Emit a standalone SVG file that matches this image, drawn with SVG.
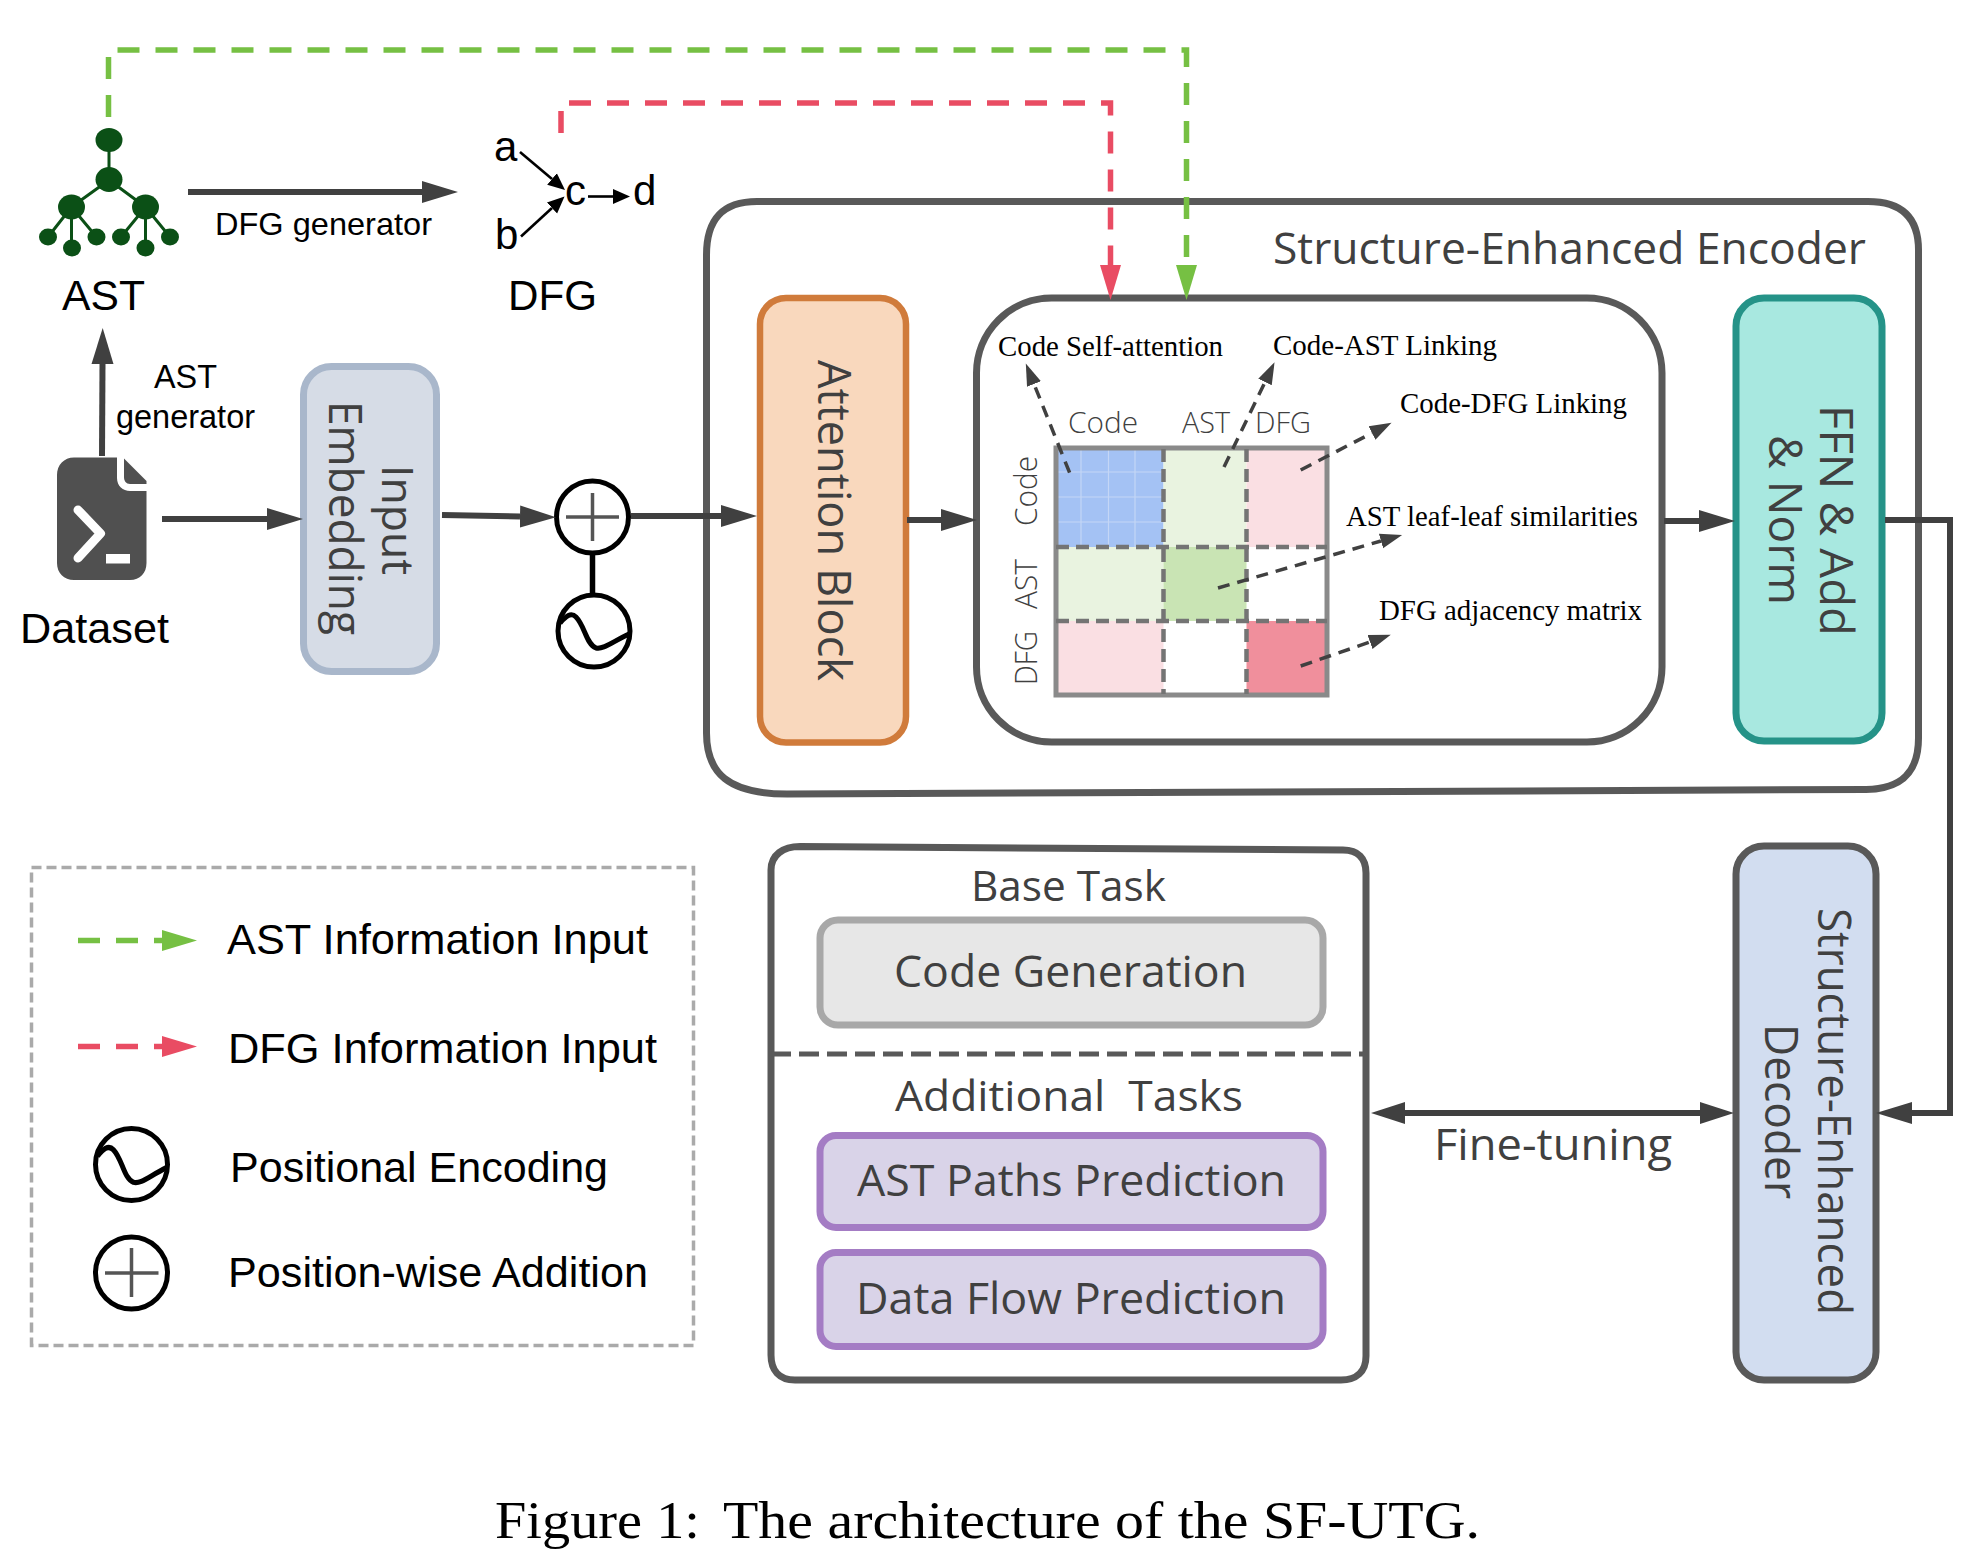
<svg xmlns="http://www.w3.org/2000/svg" width="1981" height="1567" viewBox="0 0 1981 1567">
<defs>
<style>
.ar{font-family:"Liberation Sans",Arial,sans-serif;fill:#000}
.se{font-family:"Open Sans","Noto Sans",sans-serif;fill:#404040}
.th{font-family:"Open Sans","Noto Sans",sans-serif;fill:#404040;font-weight:300}
.ti{font-family:"Liberation Serif","Times New Roman",serif;fill:#000}
.dk{fill:none;stroke:#404040;stroke-width:6}
.dash{fill:none;stroke:#404040;stroke-width:3.5;stroke-dasharray:12 8}
.green{fill:none;stroke:#76c043;stroke-width:5.5;stroke-dasharray:22 16}
.red{fill:none;stroke:#e94c63;stroke-width:5.5;stroke-dasharray:22 16}
.thin{fill:none;stroke:#000;stroke-width:2.6}
.edge{fill:none;stroke:#0b5016;stroke-width:3}
.n{fill:#0b5016}
.sym{fill:#fff;stroke:#000;stroke-width:5}
.wave{fill:none;stroke:#000;stroke-width:5}
.cross{fill:none;stroke:#555;stroke-width:3.5}
.div{fill:none;stroke:#747474;stroke-width:4.5;stroke-dasharray:13 7}
.grid{fill:none;stroke:#c4d6f6;stroke-width:1.2}
.frame{fill:none;stroke:#8a8a8a;stroke-width:5}
</style>
<marker id="hd" markerUnits="userSpaceOnUse" markerWidth="40" markerHeight="26" refX="0" refY="13" orient="auto"><path d="M0 2L36 13L0 24Z" fill="#404040"/></marker>
<marker id="hdb" markerUnits="userSpaceOnUse" markerWidth="40" markerHeight="26" refX="0" refY="13" orient="auto-start-reverse"><path d="M0 2L34 13L0 24Z" fill="#404040"/></marker>
<marker id="hs" markerUnits="userSpaceOnUse" markerWidth="26" markerHeight="20" refX="0" refY="10" orient="auto"><path d="M0 2.5L22 10L0 17.5Z" fill="#404040"/></marker>
<marker id="ht" markerUnits="userSpaceOnUse" markerWidth="20" markerHeight="18" refX="0" refY="9" orient="auto"><path d="M0 1.5L17 9L0 16.5Z" fill="#000"/></marker>
<marker id="hg" markerUnits="userSpaceOnUse" markerWidth="40" markerHeight="26" refX="0" refY="13" orient="auto"><path d="M0 2.5L35 13L0 23.5Z" fill="#76c043"/></marker>
<marker id="hr" markerUnits="userSpaceOnUse" markerWidth="40" markerHeight="26" refX="0" refY="13" orient="auto"><path d="M0 2.5L35 13L0 23.5Z" fill="#e94c63"/></marker>
<path id="sine" d="M-34 -8C-28 -15 -23 -19 -18 -14C-9 -5 -8 13 2 17C9 19 18 11 35 3"/>
</defs>
<rect width="1981" height="1567" fill="#fff"/>

<g id="encoder">
<path d="M757 201.500H1868C1902 201.500 1918.500 218 1918.500 250V738C1918.500 772 1902 789 1866 789.500L787 794C728 794 706.500 773 706.500 733V255C706.500 220 722 201.500 757 201.500Z" fill="#fff" stroke="#595959" stroke-width="7"/>
<text class="se" x="1273" y="264" font-size="44" textLength="593" lengthAdjust="spacingAndGlyphs">Structure-Enhanced Encoder</text>
</g>

<g id="ast">
<path class="edge" d="M109 140V180M109 180L71.500 207M109 180L145.500 207M71.500 207L48 237M71.500 207V248M71.500 207L96.500 237M145.500 207L121 237M145.500 207V248M145.500 207L170 237"/>
<ellipse class="n" cx="109" cy="140" rx="13.500" ry="12"/>
<ellipse class="n" cx="109" cy="179.500" rx="13.500" ry="12.500"/>
<ellipse class="n" cx="71.500" cy="207" rx="13.500" ry="12.500"/>
<ellipse class="n" cx="145.500" cy="207" rx="13.500" ry="12.500"/>
<ellipse class="n" cx="48" cy="237" rx="9" ry="8.500"/>
<ellipse class="n" cx="72" cy="248" rx="9" ry="8.500"/>
<ellipse class="n" cx="96.500" cy="237" rx="9" ry="8.500"/>
<ellipse class="n" cx="121" cy="237" rx="9" ry="8.500"/>
<ellipse class="n" cx="145.500" cy="248" rx="9" ry="8.500"/>
<ellipse class="n" cx="170" cy="237" rx="9" ry="8.500"/>
<text class="ar" x="62" y="310" font-size="43" textLength="83" lengthAdjust="spacingAndGlyphs">AST</text>
</g>

<g id="dfg">
<text class="ar" x="494" y="161" font-size="42">a</text>
<text class="ar" x="495" y="249" font-size="42">b</text>
<text class="ar" x="565" y="205" font-size="42">c</text>
<text class="ar" x="633" y="205" font-size="42">d</text>
<path class="thin" d="M520 152L552 179" marker-end="url(#ht)"/>
<path class="thin" d="M521 236.500L552 208" marker-end="url(#ht)"/>
<path class="thin" d="M588 196.500H613" marker-end="url(#ht)"/>
<text class="ar" x="508" y="310" font-size="43" textLength="89" lengthAdjust="spacingAndGlyphs">DFG</text>
</g>

<g id="dataset">
<path d="M74 457.500H117V478C117 486 123 491 130 491H146.500V563C146.500 573 140 580 130 580H74C64 580 57 573 57 563V475C57 465 64 457.500 74 457.500Z" fill="#505050"/>
<path d="M124 458.500L146.500 481V484H130C126 484 124 481 124 477Z" fill="#505050"/>
<path d="M78 510L100.500 533.500L78 558" fill="none" stroke="#fff" stroke-width="9" stroke-linecap="round" stroke-linejoin="round"/>
<rect x="106" y="554" width="24" height="9.500" fill="#fff"/>
<text class="ar" x="20" y="643" font-size="43" textLength="149" lengthAdjust="spacingAndGlyphs">Dataset</text>
</g>

<g id="input-embedding">
<rect x="303.500" y="366.500" width="133" height="305" rx="28" fill="#d6dce6" stroke="#a9b7cb" stroke-width="7"/>
<text class="se" transform="translate(381.500,465) rotate(90)" font-size="44" textLength="110" lengthAdjust="spacingAndGlyphs">Input</text>
<text class="se" transform="translate(329,401) rotate(90)" font-size="46" textLength="234" lengthAdjust="spacingAndGlyphs">Embedding</text>
</g>

<g id="addition">
<circle class="sym" cx="592.500" cy="517" r="36"/>
<path class="cross" d="M566 517H619M592.500 493V541"/>
</g>
<g id="positional">
<circle class="sym" cx="594" cy="631" r="36"/>
<use href="#sine" class="wave" transform="translate(594,631)"/>
</g>

<g id="attention-block">
<rect x="760" y="298" width="146" height="444.500" rx="26" fill="#f9d8bd" stroke="#d07b3b" stroke-width="6.500"/>
<text class="se" transform="translate(818,360) rotate(90)" font-size="46" textLength="321" lengthAdjust="spacingAndGlyphs">Attention Block</text>
</g>

<g id="attention-matrix">
<rect x="976.500" y="298" width="685.500" height="444" rx="75" fill="#fff" stroke="#595959" stroke-width="7"/>
<rect x="1056" y="449" width="107.500" height="98" fill="#a4c2f4"/>
<rect x="1163.500" y="449" width="83" height="98" fill="#e9f3e0"/>
<rect x="1246.500" y="449" width="80.500" height="98" fill="#fadfe3"/>
<rect x="1056" y="547" width="107.500" height="74" fill="#e9f3e0"/>
<rect x="1163.500" y="547" width="83" height="74" fill="#c9e4b4"/>
<rect x="1056" y="621" width="107.500" height="73" fill="#fadfe3"/>
<rect x="1246.500" y="621" width="80.500" height="73" fill="#f08f9c"/>
<path class="grid" d="M1081 449V547M1108.500 449V547M1135 449V547M1056 472H1163.500M1056 497H1163.500M1056 522H1163.500"/>
<rect class="frame" x="1056" y="448" width="271" height="247"/>
<path class="div" d="M1163.500 449V694M1246.500 449V694M1056 547H1327M1056 621H1327"/>
<text class="th" x="1068" y="433" font-size="30" textLength="70" lengthAdjust="spacingAndGlyphs">Code</text>
<text class="th" x="1182" y="433" font-size="30" textLength="48" lengthAdjust="spacingAndGlyphs">AST</text>
<text class="th" x="1255" y="433" font-size="30" textLength="56" lengthAdjust="spacingAndGlyphs">DFG</text>
<text class="th" transform="translate(1037,526) rotate(-90)" font-size="32" textLength="70" lengthAdjust="spacingAndGlyphs">Code</text>
<text class="th" transform="translate(1037,609) rotate(-90)" font-size="32" textLength="50" lengthAdjust="spacingAndGlyphs">AST</text>
<text class="th" transform="translate(1037,685) rotate(-90)" font-size="32" textLength="54" lengthAdjust="spacingAndGlyphs">DFG</text>
<text class="ti" x="998" y="356" font-size="29" textLength="225" lengthAdjust="spacingAndGlyphs">Code Self-attention</text>
<text class="ti" x="1273" y="355" font-size="29" textLength="224" lengthAdjust="spacingAndGlyphs">Code-AST Linking</text>
<text class="ti" x="1400" y="413" font-size="29" textLength="227" lengthAdjust="spacingAndGlyphs">Code-DFG Linking</text>
<text class="ti" x="1346" y="526" font-size="29" textLength="292" lengthAdjust="spacingAndGlyphs">AST leaf-leaf similarities</text>
<text class="ti" x="1379" y="620" font-size="29" textLength="263" lengthAdjust="spacingAndGlyphs">DFG adjacency matrix</text>
</g>

<g id="ffn">
<rect x="1736" y="298" width="146" height="443" rx="28" fill="#a8e8e0" stroke="#259388" stroke-width="7"/>
<text class="se" transform="translate(1820,405) rotate(90)" font-size="46" textLength="231" lengthAdjust="spacingAndGlyphs">FFN &amp; Add</text>
<text class="se" transform="translate(1769,435) rotate(90)" font-size="46" textLength="170" lengthAdjust="spacingAndGlyphs">&amp; Norm</text>
</g>

<g id="tasks">
<path d="M800 846.500L1343 850C1358 850 1366 858 1366 873V1356C1366 1372 1356 1380 1341 1380H795C779 1380 771 1370 771 1355V870C771 855 783 846.500 800 846.500Z" fill="#fff" stroke="#595959" stroke-width="7"/>
<text class="se" x="971" y="901" font-size="42" textLength="195" lengthAdjust="spacingAndGlyphs">Base Task</text>
<rect x="820" y="920" width="503" height="105" rx="18" fill="#e7e7e7" stroke="#a8a8a8" stroke-width="7"/>
<text class="se" x="894" y="987" font-size="44" textLength="353" lengthAdjust="spacingAndGlyphs">Code Generation</text>
<path d="M771 1054H1364" fill="none" stroke="#595959" stroke-width="5" stroke-dasharray="20 8"/>
<text class="se" x="895" y="1111" font-size="42" textLength="348" lengthAdjust="spacingAndGlyphs" xml:space="preserve">Additional  Tasks</text>
<rect x="820" y="1135.500" width="503" height="92" rx="16" fill="#d9d3e8" stroke="#a47cc4" stroke-width="7"/>
<text class="se" x="857" y="1196" font-size="44" textLength="429" lengthAdjust="spacingAndGlyphs">AST Paths Prediction</text>
<rect x="820" y="1252.500" width="503" height="94" rx="16" fill="#d9d3e8" stroke="#a47cc4" stroke-width="7"/>
<text class="se" x="856" y="1314" font-size="44" textLength="430" lengthAdjust="spacingAndGlyphs">Data Flow Prediction</text>
</g>

<g id="decoder">
<rect x="1736" y="846" width="140" height="534" rx="28" fill="#d2ddf0" stroke="#595959" stroke-width="7"/>
<text class="se" transform="translate(1817.500,908) rotate(90)" font-size="46" textLength="407" lengthAdjust="spacingAndGlyphs">Structure-Enhanced</text>
<text class="se" transform="translate(1765,1024) rotate(90)" font-size="46" textLength="175" lengthAdjust="spacingAndGlyphs">Decoder</text>
</g>

<g id="fine-tuning-label">
<text class="se" x="1434" y="1160" font-size="44" textLength="238" lengthAdjust="spacingAndGlyphs">Fine-tuning</text>
</g>
<g id="generator-labels">
<text class="ar" x="215" y="235" font-size="32" textLength="217" lengthAdjust="spacingAndGlyphs">DFG generator</text>
<text class="ar" x="154" y="388" font-size="33" textLength="63" lengthAdjust="spacingAndGlyphs">AST</text>
<text class="ar" x="116" y="428" font-size="33" textLength="139" lengthAdjust="spacingAndGlyphs">generator</text>
</g>

<g id="connectors">
<path class="green" d="M108.500 117V50H1186.500V265" marker-end="url(#hg)"/>
<path class="red" d="M561 133V103H1110.500V265" marker-end="url(#hr)"/>
<path class="dk" d="M188 192H422" marker-end="url(#hd)"/>
<path class="dk" d="M102 456L102.500 364" marker-end="url(#hd)"/>
<path class="dk" d="M162 519H267" marker-end="url(#hd)"/>
<path class="dk" d="M442 515L520 516.500" marker-end="url(#hd)"/>
<path d="M592.500 553V595" fill="none" stroke="#000" stroke-width="5.500"/>
<path class="dk" d="M631 516H721" marker-end="url(#hd)"/>
<path class="dk" d="M907 520H941" marker-end="url(#hd)"/>
<path class="dk" d="M1664 521H1699" marker-end="url(#hd)"/>
<path class="dk" d="M1885 520H1950V1113H1912" marker-end="url(#hd)"/>
<path class="dk" d="M1405 1113H1700" marker-start="url(#hdb)" marker-end="url(#hdb)"/>
<path class="dash" d="M1069.600 472.700L1034 384" marker-end="url(#hs)"/>
<path class="dash" d="M1224 467L1265 382" marker-end="url(#hs)"/>
<path class="dash" d="M1300.700 470L1372 433" marker-end="url(#hs)"/>
<path class="dash" d="M1218 588L1381 541" marker-end="url(#hs)"/>
<path class="dash" d="M1300.700 666L1370 642" marker-end="url(#hs)"/>
</g>

<g id="legend">
<rect x="31.500" y="867.500" width="662" height="478" fill="none" stroke="#aaa" stroke-width="3.500" stroke-dasharray="10 5"/>
<path class="green" d="M78 940.500H162" marker-end="url(#hg)"/>
<path class="red" d="M78 1046.500H162" marker-end="url(#hr)"/>
<text class="ar" x="227" y="953.500" font-size="43" textLength="421" lengthAdjust="spacingAndGlyphs">AST Information Input</text>
<text class="ar" x="228" y="1063" font-size="43" textLength="429" lengthAdjust="spacingAndGlyphs">DFG Information Input</text>
<circle class="sym" cx="131.500" cy="1164.500" r="36"/>
<use href="#sine" class="wave" transform="translate(131.500,1164.500) scale(1,1.050)"/>
<text class="ar" x="230" y="1182" font-size="43" textLength="378" lengthAdjust="spacingAndGlyphs">Positional Encoding</text>
<circle class="sym" cx="131.500" cy="1273" r="36"/>
<path class="cross" d="M105 1273H158.500M131.500 1248V1297"/>
<text class="ar" x="228" y="1287" font-size="43" textLength="420" lengthAdjust="spacingAndGlyphs">Position-wise Addition</text>
</g>

<g id="caption">
<text class="ti" y="1538" font-size="52"><tspan x="495" textLength="205" lengthAdjust="spacingAndGlyphs">Figure 1:</tspan><tspan x="723" textLength="757" lengthAdjust="spacingAndGlyphs">The architecture of the SF-UTG.</tspan></text>
</g>
</svg>
